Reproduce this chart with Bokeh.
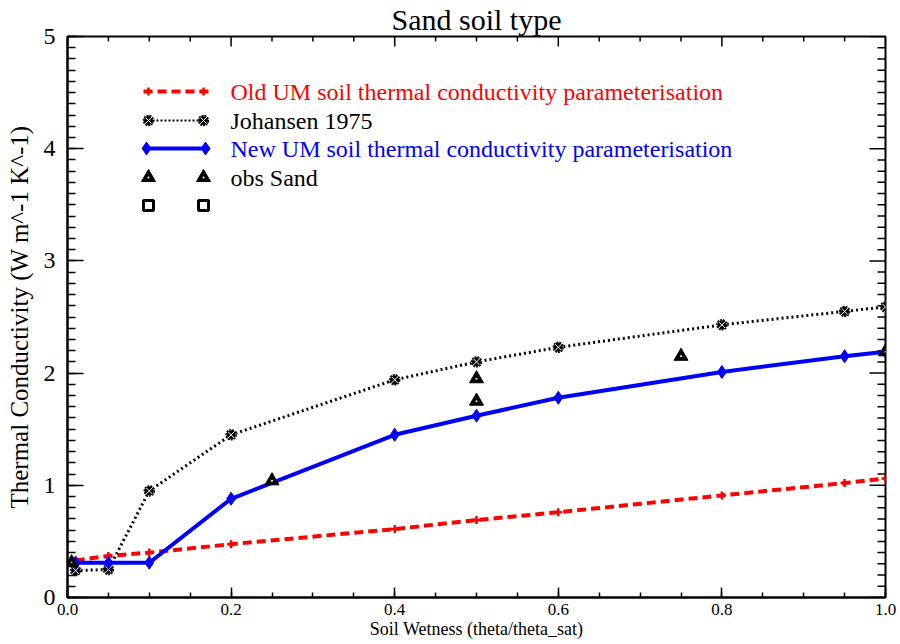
from bokeh.plotting import figure
from bokeh.models import Range1d, FixedTicker, PrintfTickFormatter, Label
from bokeh.embed import file_html
from bokeh.resources import INLINE

# ---------------- data ----------------
wetness = [0.01, 0.05, 0.1, 0.2, 0.4, 0.5, 0.6, 0.8, 0.95, 1.0]
old_um = [0.33, 0.37, 0.40, 0.475, 0.61, 0.69, 0.76, 0.91, 1.02, 1.06]
johansen = [0.24, 0.25, 0.95, 1.45, 1.94, 2.10, 2.23, 2.43, 2.55, 2.59]
new_um = [0.31, 0.31, 0.31, 0.88, 1.45, 1.62, 1.78, 2.01, 2.15, 2.19]
obs_x = [0.005, 0.25, 0.5, 0.5, 0.75, 1.0]
obs_y = [0.31, 1.04, 1.75, 1.95, 2.15, 2.19]

x_ticks = [0.0, 0.2, 0.4, 0.6, 0.8, 1.0]
x_minor = [round(i * 0.05, 2) for i in range(21)]
y_ticks = [0, 1, 2, 3, 4, 5]
y_minor = [round(i * 0.1, 1) for i in range(51)]

title_text = "Sand soil type"
x_label = "Soil Wetness (theta/theta_sat)"
y_label = "Thermal Conductivity (W m^-1 K^-1)"
legend_labels = ["Old UM soil thermal conductivity parameterisation",
                 "Johansen 1975",
                 "New UM soil thermal conductivity parameterisation",
                 "obs Sand",
                 ""]

SERIF = "Liberation Serif"
RED = "#ff0000"
BLUE = "#0000ff"

# ---------------- figure ----------------
p = figure(width=900, height=644, x_range=Range1d(0, 1), y_range=Range1d(0, 5),
           output_backend="svg", toolbar_location=None,
           min_border_left=67, min_border_right=15,
           min_border_top=36, min_border_bottom=47)
p.xgrid.visible = False
p.ygrid.visible = False
p.outline_line_color = "black"
p.outline_line_width = 2
p.background_fill_color = "white"
p.border_fill_color = "white"

p.title.text = title_text
p.title.align = "center"
p.title.text_font = SERIF
p.title.text_font_size = "30px"
p.title.text_font_style = "normal"
p.title.text_color = "black"
p.title.standoff = 1

# pixel-like coordinate system for the frame (legend, tick marks on top/right)
p.extra_x_ranges = {"px": Range1d(67, 885)}
p.extra_y_ranges = {"px": Range1d(597, 36)}


def style_axis(ax, major_len, minor_len, ticks, minor, fmt, lab_size):
    ax.ticker = FixedTicker(ticks=ticks, minor_ticks=minor)
    ax.axis_line_width = 2
    ax.axis_line_color = "black"
    ax.major_tick_in = major_len
    ax.major_tick_out = 0
    ax.minor_tick_in = minor_len
    ax.minor_tick_out = 0
    ax.major_tick_line_width = 1.5
    ax.minor_tick_line_width = 1.5
    ax.major_tick_line_color = "black"
    ax.minor_tick_line_color = "black"
    ax.formatter = PrintfTickFormatter(format=fmt)
    ax.major_label_text_font = SERIF
    ax.major_label_text_font_size = lab_size
    ax.major_label_text_color = "black"
    ax.axis_label_text_color = "black"
    ax.axis_label_text_font = SERIF
    ax.axis_label_text_font_style = "normal"


xb = p.xaxis[0]
style_axis(xb, 10, 5, x_ticks, x_minor, "%.1f", "17px")
xb.major_label_standoff = 6
xb.axis_label = x_label
xb.axis_label_text_font_size = "18px"
xb.axis_label_standoff = 1

yl = p.yaxis[0]
style_axis(yl, 16, 8, y_ticks, y_minor, "%d", "24px")
yl.major_label_standoff = 12
yl.axis_label = y_label
yl.axis_label_text_font_size = "25px"
yl.axis_label_standoff = 8

# top and right inward ticks (no labels)
major_x = [t for t in x_minor if t in x_ticks]
minor_x = [t for t in x_minor if t not in x_ticks]
major_y = [t for t in y_minor if t in y_ticks]
minor_y = [t for t in y_minor if t not in y_ticks]
p.segment(x0=major_x, x1=major_x, y0=[36] * len(major_x), y1=[46] * len(major_x),
          y_range_name="px", line_color="black", line_width=1.5)
p.segment(x0=minor_x, x1=minor_x, y0=[36] * len(minor_x), y1=[41] * len(minor_x),
          y_range_name="px", line_color="black", line_width=1.5)
p.segment(x0=[885] * len(major_y), x1=[869] * len(major_y), y0=major_y, y1=major_y,
          x_range_name="px", line_color="black", line_width=1.5)
p.segment(x0=[885] * len(minor_y), x1=[877] * len(minor_y), y0=minor_y, y1=minor_y,
          x_range_name="px", line_color="black", line_width=1.5)

# ---------------- series ----------------
p.line(wetness, old_um, line_color=RED, line_width=4, line_dash="9 5")
p.scatter(wetness, old_um, marker="cross", size=8, line_color=RED, line_width=2.5)

p.line(wetness, johansen, line_color="black", line_width=3, line_dash="2 3")
p.scatter(wetness, johansen, marker="circle_x", size=10, fill_color="black",
          line_color="white", line_width=1)
p.scatter(wetness, johansen, marker="circle", size=10, fill_color=None,
          line_color="black", line_width=1.5, line_dash="2 1")

p.line(wetness, new_um, line_color=BLUE, line_width=4)
p.scatter(wetness, new_um, marker="diamond", size=13, fill_color=BLUE, line_color=BLUE)

p.scatter(obs_x, obs_y, marker="triangle", size=14, fill_color="black", line_color="black")
p.scatter(obs_x, obs_y, marker="circle", size=2, fill_color="white", line_color=None)

# ---------------- legend (pixel layout) ----------------
rows = [91, 120, 148, 177, 205]
lx0, lx1, mx0, mx1, tx = 143, 209, 148, 203, 230
kw = dict(x_range_name="px", y_range_name="px")

p.line([lx0, lx1], [rows[0], rows[0]], line_color=RED, line_width=4, line_dash="9 5", **kw)
p.scatter([mx0, mx1], [rows[0], rows[0]], marker="cross", size=8, line_color=RED, line_width=2.5, **kw)

p.line([mx0, mx1], [rows[1], rows[1]], line_color="black", line_width=2, line_dash="2 2", **kw)
p.scatter([mx0, mx1], [rows[1], rows[1]], marker="circle_x", size=10, fill_color="black",
          line_color="white", line_width=1, **kw)
p.scatter([mx0, mx1], [rows[1], rows[1]], marker="circle", size=10, fill_color=None,
          line_color="black", line_width=1.5, line_dash="2 1", **kw)

p.line([lx0, lx1], [rows[2], rows[2]], line_color=BLUE, line_width=4, **kw)
p.scatter([mx0 - 2, mx1 + 2], [rows[2], rows[2]], marker="diamond", size=13,
          fill_color=BLUE, line_color=BLUE, **kw)

p.scatter([mx0, mx1], [rows[3], rows[3]], marker="triangle", size=14,
          fill_color="black", line_color="black", **kw)
p.scatter([mx0, mx1], [rows[3], rows[3]], marker="circle", size=2,
          fill_color="white", line_color=None, **kw)

p.scatter([mx0, mx1], [rows[4], rows[4]], marker="square", size=10,
          fill_color="white", line_color="black", line_width=3, **kw)

label_colors = [RED, "black", BLUE, "black", "black"]
for lab, col, yy in zip(legend_labels, label_colors, rows):
    if lab:
        p.add_layout(Label(x=tx, y=yy, text=lab, text_color=col, text_font=SERIF,
                           text_font_size="24px", text_baseline="middle",
                           text_align="left", **kw))

open("out.html", "w").write(file_html(p, INLINE))
